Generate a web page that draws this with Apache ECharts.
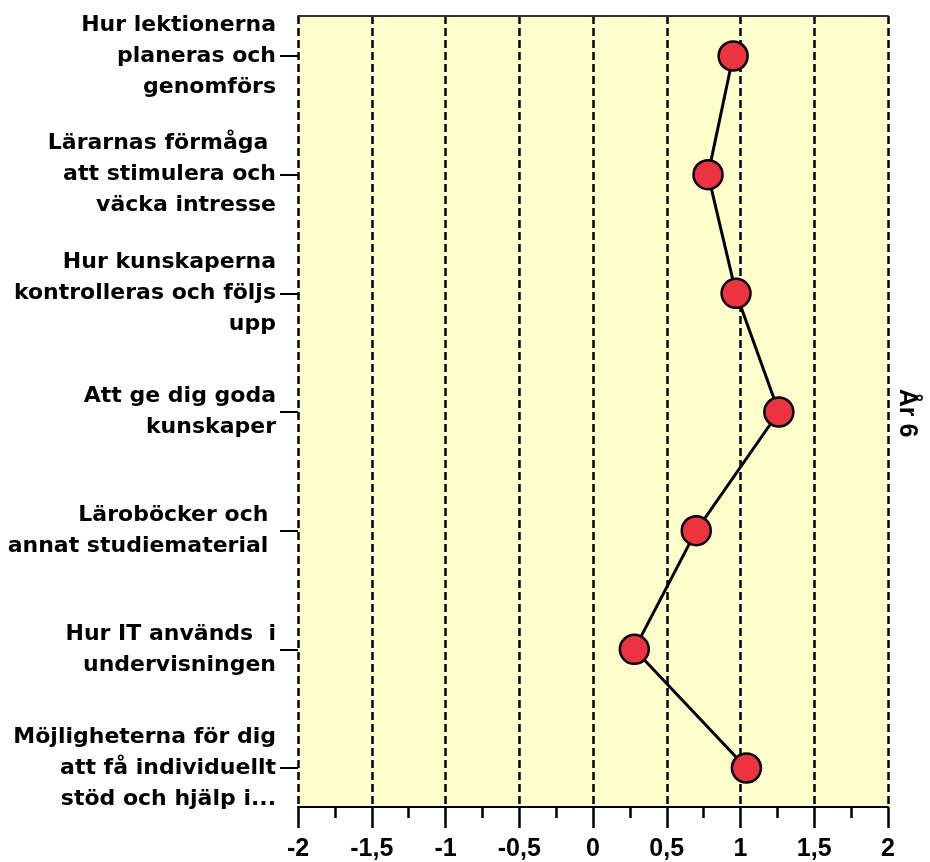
<!DOCTYPE html>
<html>
<head>
<meta charset="utf-8">
<script src="https://cdn.jsdelivr.net/npm/echarts@6/dist/echarts.min.js"></script>
<style>
  html, body { margin: 0; padding: 0; background: #fff; }
  #chart { width: 930px; height: 862px; }
</style>
</head>
<body>
<div id="chart"></div>
<script>
// kategorier uppifrån och ned
const categories = [
  'Hur lektionerna\nplaneras och\ngenomförs',
  'Lärarnas förmåga \natt stimulera och\nväcka intresse',
  'Hur kunskaperna\nkontrolleras och följs\nupp',
  'Att ge dig goda\nkunskaper',
  'Läroböcker och \nannat studiematerial ',
  'Hur IT används  i\nundervisningen',
  'Möjligheterna för dig\natt få individuellt\nstöd och hjälp i...'
]
const values = [0.95, 0.78, 0.97, 1.26, 0.70, 0.28, 1.04]
const xTicks = [-2, -1.5, -1, -0.5, 0, 0.5, 1, 1.5, 2]
const sideLabel = 'År 6'

const chart = echarts.init(document.getElementById('chart'))

const option = {
  animation: false,
  grid: [
    // plotytan med gul bakgrund
    { left: 298, right: 42, top: 16, bottom: 55, show: true,
      backgroundColor: '#FFFFCC', borderWidth: 0 },
    // punkternas rutnät
    { left: 298, right: 42, top: 56, bottom: 94 }
  ],
  xAxis: [
    {
      gridIndex: 0,
      type: 'value',
      min: xTicks[0],
      max: xTicks[xTicks.length - 1],
      interval: 0.5,
      position: 'bottom',
      axisLine: { show: true, onZero: false, lineStyle: { color: '#000', width: 2 } },
      axisTick: { show: true, length: 21, lineStyle: { color: '#000', width: 2.5 } },
      minorTick: { show: true, splitNumber: 2, length: 11, lineStyle: { color: '#000', width: 2.5 } },
      splitLine: { show: true, lineStyle: { color: '#000', width: 2.5, type: [8, 4] } },
      axisLabel: {
        margin: 30,
        fontFamily: 'Liberation Sans',
        fontSize: 25,
        fontWeight: 'bold',
        color: '#000',
        formatter: v => String(v).replace('.', ',')
      }
    },
    {
      // övre kantlinjen
      gridIndex: 0,
      type: 'value',
      min: -2,
      max: 2,
      position: 'top',
      axisLine: { show: true, onZero: false, lineStyle: { color: '#333', width: 2 } },
      axisTick: { show: false },
      axisLabel: { show: false },
      splitLine: { show: false }
    },
    {
      gridIndex: 1,
      type: 'value',
      min: -2,
      max: 2,
      show: false
    }
  ],
  yAxis: [
    {
      gridIndex: 1,
      type: 'category',
      inverse: true,
      boundaryGap: false,
      position: 'left',
      data: categories,
      axisLine: { show: false, onZero: false },
      axisTick: { show: true, length: 18, lineStyle: { color: '#000', width: 2 } },
      splitLine: { show: false },
      axisLabel: {
        margin: 22,
        fontFamily: 'DejaVu Sans',
        fontSize: 22,
        fontWeight: 'bold',
        lineHeight: 31,
        color: '#000'
      }
    },
    {
      gridIndex: 0,
      type: 'value',
      show: false
    }
  ],
  graphic: [
    {
      type: 'text',
      x: 907,
      y: 413,
      rotation: -Math.PI / 2,
      style: {
        text: sideLabel,
        fontFamily: 'Liberation Sans',
        fontSize: 25,
        fontWeight: 'bold',
        fill: '#000',
        align: 'center',
        verticalAlign: 'middle'
      }
    }
  ],
  series: [
    {
      type: 'line',
      xAxisIndex: 2,
      yAxisIndex: 0,
      data: values.map((v, i) => [v, categories[i]]),
      symbol: 'circle',
      symbolSize: 29,
      itemStyle: { color: '#EE3340', borderColor: '#000', borderWidth: 2.5 },
      lineStyle: { color: '#000', width: 3 }
    }
  ]
}

chart.setOption(option)
</script>
</body>
</html>
